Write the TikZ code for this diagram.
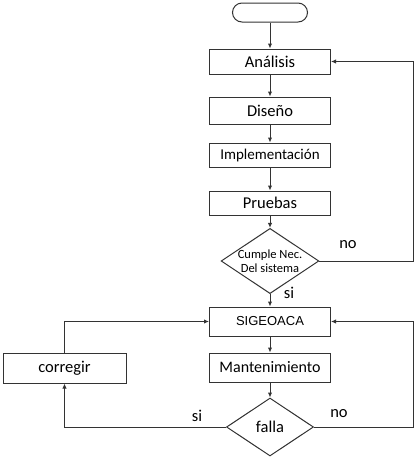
\documentclass[tikz,border=0pt]{standalone}
\usepackage{fontspec}
\setmainfont{Carlito}
\newfontfamily\arialf{Liberation Sans}
\usetikzlibrary{shapes.geometric,arrows.meta}
\begin{document}
\begin{tikzpicture}[x=1pt,y=-1pt,
  box/.style={draw=black!80,line width=1pt,minimum width=121pt,minimum height=25pt,inner sep=0pt,font=\fontsize{16.5}{18}\selectfont},
  dia/.style={draw=black!80,line width=1pt,diamond,aspect=1.5,minimum width=87pt,minimum height=58pt,inner sep=0pt},
  conn/.style={draw=black!80,line width=1pt,-{Latex[length=5pt,width=4.5pt]}},
  lbl/.style={font=\fontsize{16.5}{18}\selectfont,inner sep=0pt}]
\useasboundingbox (0,0) rectangle (420,459);
\node[draw=black!80,line width=1pt,rounded corners=9.5pt,minimum width=75pt,minimum height=19pt,inner sep=0pt] (start) at (270,12.5) {};
\node[box] (ana) at (270,61.5) {Análisis};
\node[box,minimum height=27pt] (dis) at (270,110.5) {Diseño};
\node[box,minimum height=24pt,font=\fontsize{15}{17}\selectfont] (imp) at (270,155) {Implementación};
\node[box,minimum height=24pt] (pru) at (270,203) {Pruebas};
\node[dia,font=\fontsize{12.5}{13.5}\selectfont,align=center] (cum) at (270,261) {Cumple Nec.\\Del sistema};
\node[box,minimum height=29pt,font=\arialf\fontsize{13}{15}\selectfont] (sig) at (270,321.5) {SIGEOACA};
\node[box,minimum height=29pt,font=\fontsize{16}{18}\selectfont] (man) at (270,367.5) {Mantenimiento};
\node[dia,font=\fontsize{16.5}{18}\selectfont] (fal) at (270,427) {falla};
\node[box,minimum width=123pt,minimum height=30pt] (cor) at (64.5,368) {corregir};
\coordinate (r1) at (413,261);
\coordinate (r2) at (413,321.5);
\coordinate (l1) at (64.5,427);
\draw[conn] (start) -- (ana);
\draw[conn] (ana) -- (dis);
\draw[conn] (dis) -- (imp);
\draw[conn] (imp) -- (pru);
\draw[conn] (pru) -- (cum);
\draw[conn] (cum.east) -- (r1) |- (ana.east);
\draw[conn] (cum) -- (sig);
\draw[conn] (sig) -- (man);
\draw[conn] (man) -- (fal);
\draw[conn] (fal.east) -- (413,427) |- (sig.east);
\draw[conn] (fal.west) -- (l1) -- (cor.south);
\draw[conn] (cor.north) |- (sig.west);
\node[lbl] (no1) at (348,245) {no};
\node[lbl] (si1) at (289,293) {si};
\node[lbl] (si2) at (197,416) {si};
\node[lbl] (no2) at (339,414) {no};
\end{tikzpicture}
\end{document}
